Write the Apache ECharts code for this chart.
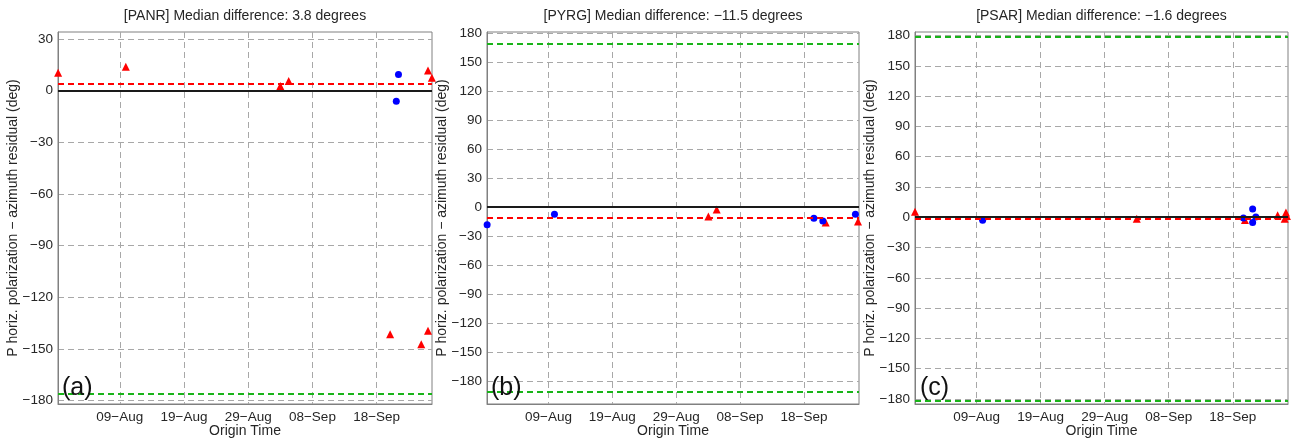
<!DOCTYPE html>
<html>
<head>
<meta charset="utf-8">
<script src="https://cdn.jsdelivr.net/npm/echarts@6/dist/echarts.min.js"></script>
<style>html,body{margin:0;padding:0;background:#fff;}#c{width:1299px;height:441px;}</style>
</head>
<body>
<div id="c"></div>
<script>
// ---- data (x = day number, Aug 1 = 1, Sep 1 = 32) ----
const xRange = [-0.62, 57.62];
const xTickDays = [9, 19, 29, 39, 49];
const xTickLabels = ['09\u2212Aug', '19\u2212Aug', '29\u2212Aug', '08\u2212Sep', '18\u2212Sep'];
const yTicksA = [-180, -150, -120, -90, -60, -30, 0, 30];
const yTicksBC = [-180, -150, -120, -90, -60, -30, 0, 30, 60, 90, 120, 150, 180];
const yRangeA = [-182, 34];
const yRangeB = [-204, 181];
const yRangeC = [-185, 183.5];

const stations = ['PANR', 'PYRG', 'PSAR'];
const medians = [3.8, -11.5, -1.6];
const panelLabels = ['(a)', '(b)', '(c)'];

// PANR
const panrTriX = [-0.6, 9.94, 34.0, 35.3, 51.1, 55.95, 57.0, 57.0, 57.6];
const panrTriY = [10.4, 13.8, 2.7, 5.6, -141.5, -147.3, -139.5, 11.6, 7.4];
const panrDotX = [52.4, 52.06];
const panrDotY = [9.3, -6.2];
// PYRG
const pyrgTriX = [34.04, 35.34, 52.4, 57.46];
const pyrgTriY = [-10.0, -2.8, -16.2, -15.2];
const pyrgDotX = [-0.6, 9.94, 50.56, 51.96, 57.06];
const pyrgDotY = [-18.6, -7.6, -11.7, -14.5, -7.6];
// PSAR
const psarTriX = [-0.62, 34.0, 50.9, 56.0, 57.3, 57.45, 57.1];
const psarTriY = [5.5, -1.4, -2.7, 2.0, 4.6, 1.3, -1.4];
const psarDotX = [9.94, 50.66, 52.1, 52.6, 52.1];
const psarDotY = [-3.0, -0.7, 8.2, 0.3, -5.3];

const triX = [panrTriX, pyrgTriX, psarTriX];
const triY = [panrTriY, pyrgTriY, psarTriY];
const dotX = [panrDotX, pyrgDotX, psarDotX];
const dotY = [panrDotY, pyrgDotY, psarDotY];
const yRanges = [yRangeA, yRangeB, yRangeC];
const yTicks = [yTicksA, yTicksBC, yTicksBC];

// ---- layout ----
const grids = [
  {left: 58, top: 32, width: 374, height: 372},
  {left: 487, top: 32, width: 372, height: 372},
  {left: 915, top: 32, width: 373, height: 372}
];
const FONT = 'Liberation Sans, Arial, Helvetica, sans-serif';
const minus = v => String(v).replace('-', '\u2212');
const pairs = (xs, ys) => xs.map((x, i) => [x, ys[i]]);

const option = {
  animation: false,
  backgroundColor: '#fff',
  title: [],
  grid: [],
  xAxis: [],
  yAxis: [],
  series: []
};

grids.forEach((g, i) => {
  option.grid.push(Object.assign({show: true, borderColor: '#808080', borderWidth: 1, backgroundColor: '#fff',
    containLabel: false, outerBoundsMode: 'none'}, g));
  option.title.push({
    text: '[' + stations[i] + '] Median difference: ' + minus(medians[i].toFixed(1)) + ' degrees',
    left: g.left + g.width / 2, top: 9, textAlign: 'center', padding: 0,
    textStyle: {fontFamily: FONT, fontSize: 14, fontWeight: 'normal', color: '#262626'}
  });
  option.title.push({
    text: panelLabels[i],
    left: g.left + 4 + (i === 2 ? 1 : 0), top: 376, padding: 0,
    textStyle: {fontFamily: FONT, fontSize: 25, fontWeight: 'normal', color: '#111'}
  });
  option.xAxis.push({
    type: 'value', gridIndex: i, min: xRange[0], max: xRange[1],
    name: 'Origin Time', nameLocation: 'middle', nameGap: 20, nameMoveOverlap: false,
    nameTextStyle: {fontFamily: FONT, fontSize: 14, color: '#262626'},
    axisLine: {show: true, onZero: false, lineStyle: {color: '#808080', width: 1}},
    axisTick: {show: false, customValues: xTickDays},
    axisLabel: {
      customValues: xTickDays, margin: 6, fontFamily: FONT, fontSize: 13.5, color: '#262626',
      formatter: v => { const k = xTickDays.indexOf(v); return k >= 0 ? xTickLabels[k] : ''; }
    },
    splitLine: {show: true, lineStyle: {color: '#a8a8a8', type: [6, 4], width: 1}}
  });
  option.yAxis.push({
    type: 'value', gridIndex: i, min: yRanges[i][0], max: yRanges[i][1],
    name: 'P horiz. polarization \u2212 azimuth residual (deg)', nameLocation: 'middle',
    nameGap: 38, nameRotate: 90, nameMoveOverlap: false,
    nameTextStyle: {fontFamily: FONT, fontSize: 14, color: '#262626'},
    axisLine: {show: true, onZero: false, lineStyle: {color: '#808080', width: 1}},
    axisTick: {show: false, customValues: yTicks[i]},
    axisLabel: {customValues: yTicks[i], margin: 5, fontFamily: FONT, fontSize: 13.5, color: '#262626', formatter: v => minus(v)},
    splitLine: {show: true, lineStyle: {color: '#a8a8a8', type: [6, 4], width: 1}}
  });

  const greens = [medians[i] - 180, medians[i] + 180].filter(v => v >= yRanges[i][0] && v <= yRanges[i][1]);
  const mlData = greens.map(v => ({yAxis: v, lineStyle: {color: '#19b419', type: [6, 4], width: 2}}));
  mlData.push({yAxis: 0, lineStyle: {color: '#1a1a1a', type: 'solid', width: 2}});
  mlData.push({yAxis: medians[i], lineStyle: {color: '#ff0000', type: [6, 4], width: 2}});

  option.series.push({
    type: 'line', xAxisIndex: i, yAxisIndex: i, data: [], z: 1, silent: true,
    markLine: {symbol: 'none', silent: true, animation: false, label: {show: false}, data: mlData}
  });
  option.series.push({
    type: 'scatter', xAxisIndex: i, yAxisIndex: i, z: 3, symbol: 'triangle', symbolSize: 8,
    itemStyle: {color: '#ff0000', opacity: 1}, data: pairs(triX[i], triY[i]), clip: false
  });
  option.series.push({
    type: 'scatter', xAxisIndex: i, yAxisIndex: i, z: 4, symbol: 'circle', symbolSize: 7,
    itemStyle: {color: '#0000ff', opacity: 1}, data: pairs(dotX[i], dotY[i]), clip: false
  });
});

const chart = echarts.init(document.getElementById('c'), null, {renderer: 'canvas'});
chart.setOption(option);
</script>
</body>
</html>
